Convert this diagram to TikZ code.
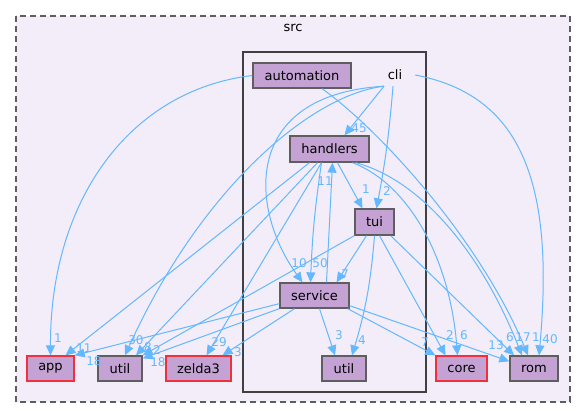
\documentclass[tikz,border=0pt]{standalone}
\usepackage{fontspec}
\setmainfont{DejaVu Sans}
\usetikzlibrary{arrows.meta}
\definecolor{edgeblue}{HTML}{63B8FF}
\definecolor{dirfill}{HTML}{C4A2D4}
\definecolor{clusterfill}{HTML}{F2EDF8}
\definecolor{dirgray}{HTML}{5E5E5E}
\definecolor{dirred}{HTML}{F0303C}
\tikzset{
  dirnode/.style={rectangle, draw=dirgray, line width=1.3pt, fill=dirfill, minimum height=25pt, inner sep=0pt, font=\fontsize{13}{15}\selectfont},
  reddir/.style={dirnode, draw=dirred},
  deplabel/.style={text=edgeblue, inner sep=0pt, font=\fontsize{12}{14}\selectfont},
  dep/.style={draw=edgeblue, line width=1pt, -{Triangle[length=10pt,width=9pt]}}
}

\begin{document}
\begin{tikzpicture}[x=1pt,y=-1pt]
    \useasboundingbox (0,0) rectangle (585,419);

    % Cluster src
    \draw[fill=clusterfill, draw=dirgray, line width=1.2pt, dash pattern=on 6pt off 4pt] (16,16) rectangle (570,402);
    \node[font=\fontsize{13}{15}\selectfont] (srclabel) at (293,28) {src};

    % Cluster cli
    \draw[fill=clusterfill, draw=black!75, line width=2pt] (243,52) rectangle (426,392);
    \node[font=\fontsize{13}{15}\selectfont, minimum width=40pt, minimum height=22pt, inner sep=0pt] (cli) at (395,75) {cli};

    % Directorios dentro de cli
    \node[dirnode, minimum width=98pt] (automation) at (302,75.5) {automation};
    \node[dirnode, minimum width=79pt, minimum height=26pt] (handlers) at (329.5,149) {handlers};
    \node[dirnode, minimum width=39pt, minimum height=26pt] (tui) at (374.5,222) {tui};
    \node[dirnode, minimum width=69pt] (service) at (314.5,295.5) {service};
    \node[dirnode, minimum width=44pt] (utilin) at (344,368.5) {util};

    % Directorios fuera de cli
    \node[reddir, minimum width=47pt] (app) at (50.5,368.5) {app};
    \node[dirnode, minimum width=44pt] (utilout) at (120,368.5) {util};
    \node[reddir, minimum width=65pt] (zelda) at (198.5,368.5) {zelda3};
    \node[reddir, minimum width=51pt] (core) at (461.5,368.5) {core};
    \node[dirnode, minimum width=48pt] (rom) at (534,368.5) {rom};

    % --- Dependencias de cli ---
    \draw[dep] ([xshift=-11pt]cli.south) -- ([xshift=15pt]handlers.north);
    \node[deplabel] (l45) at (359,128) {45};
    \draw[dep] ([xshift=-2pt]cli.south) to[bend left=3] ([xshift=2pt]tui.north);
    \node[deplabel] (lcli2) at (387,191) {2};
    \draw[dep] ([xshift=-11pt]cli.south) .. controls (240,95) and (250,210) .. ([xshift=-12pt]service.north);
    \node[deplabel] (l10) at (299,263) {10};
    \draw[dep] ([xshift=-11pt]cli.south) .. controls (310,95) and (200,190) .. ([xshift=5pt]utilout.north);
    \node[deplabel] (l30) at (136,340) {30};
    \draw[dep] (cli.east) .. controls (520,95) and (555,180) .. ([xshift=5pt]rom.north);
    \node[deplabel] (l40) at (550,339) {40};

    % --- Dependencias de automation ---
    \draw[dep] (automation.west) .. controls (130,90) and (50,200) .. (app.north);
    \node[deplabel] (lapp1) at (58,338) {1};
    \draw[dep] ([xshift=20pt]automation.south) .. controls (380,130) and (480,240) .. ([xshift=-6pt]rom.north);
    \node[deplabel] (lrom1) at (536,337) {1};

    % --- Dependencias de handlers ---
    \draw[dep] ([xshift=8pt]handlers.south) -- ([xshift=-12pt]tui.north);
    \node[deplabel] (ltui1) at (366,189) {1};
    \draw[dep] ([xshift=-8pt]handlers.south) to[bend right=3] ([xshift=-4pt]service.north);
    \node[deplabel] (l50) at (320,263) {50};
    \draw[dep] ([xshift=-20pt]handlers.south) -- ([xshift=15pt]app.north);
    \node[deplabel] (l11a) at (84,348) {11};
    \draw[dep] ([xshift=-12pt]handlers.south) -- ([xshift=16pt]utilout.north);
    \node[deplabel] (l8) at (148,347) {8};
    \draw[dep] ([xshift=-8pt]handlers.south) -- ([xshift=8pt]zelda.north);
    \node[deplabel] (l29) at (219,342) {29};
    \draw[dep] ([xshift=-17pt]handlers.south east) .. controls (410,185) and (450,260) .. ([xshift=-4pt]core.north);
    \node[deplabel] (lcore6) at (464,335) {6};
    \draw[dep] ([xshift=-14pt]handlers.south east) .. controls (420,180) and (480,250) .. ([xshift=-12pt]rom.north);
    \node[deplabel] (l17) at (523,337) {17};

    % --- Dependencias de tui ---
    \draw[dep] ([xshift=-8pt]tui.south) -- ([xshift=22pt]service.north);
    \node[deplabel] (l7a) at (345,274) {7};
    \draw[dep] (tui.south) to[bend left=6] ([xshift=8pt]utilin.north);
    \node[deplabel] (l4) at (362,340) {4};
    \draw[dep] (tui.south west) -- (utilout.north east);
    \node[deplabel] (lutil2) at (157,350) {2};
    \draw[dep] ([xshift=5pt]tui.south) -- ([xshift=-16pt]core.north);
    \node[deplabel] (lcore2) at (450,335) {2};
    \draw[dep] ([xshift=-4pt]tui.south east) -- ([xshift=-20pt]rom.north);
    \node[deplabel] (lrom6) at (510,337) {6};

    % --- Dependencias de service ---
    \draw[dep] ([xshift=12pt]service.north) -- ([xshift=3pt]handlers.south);
    \node[deplabel] (l11b) at (325,181) {11};
    \draw[dep] ([xshift=5pt]service.south) -- ([xshift=-9pt]utilin.north);
    \node[deplabel] (l3a) at (339,335) {3};
    \draw[dep] ([yshift=5pt]service.south west) -- (app.north east);
    \node[deplabel] (l18a) at (94,361) {18};
    \draw[dep] (service.south west) -- ([yshift=-3pt]utilout.north east);
    \node[deplabel] (l18b) at (158,362) {18};
    \draw[dep] ([xshift=-20pt]service.south) -- ([xshift=24pt]zelda.north);
    \node[deplabel] (l3b) at (238,352) {3};
    \draw[dep] ([xshift=-2pt]service.south east) -- (core.north west);
    \node[deplabel] (l7b) at (425,342) {7};
    \draw[dep] ([yshift=3pt]service.south east) -- ([yshift=-6pt]rom.north west);
    \node[deplabel] (l13) at (496,345) {13};

\end{tikzpicture}
\end{document}
